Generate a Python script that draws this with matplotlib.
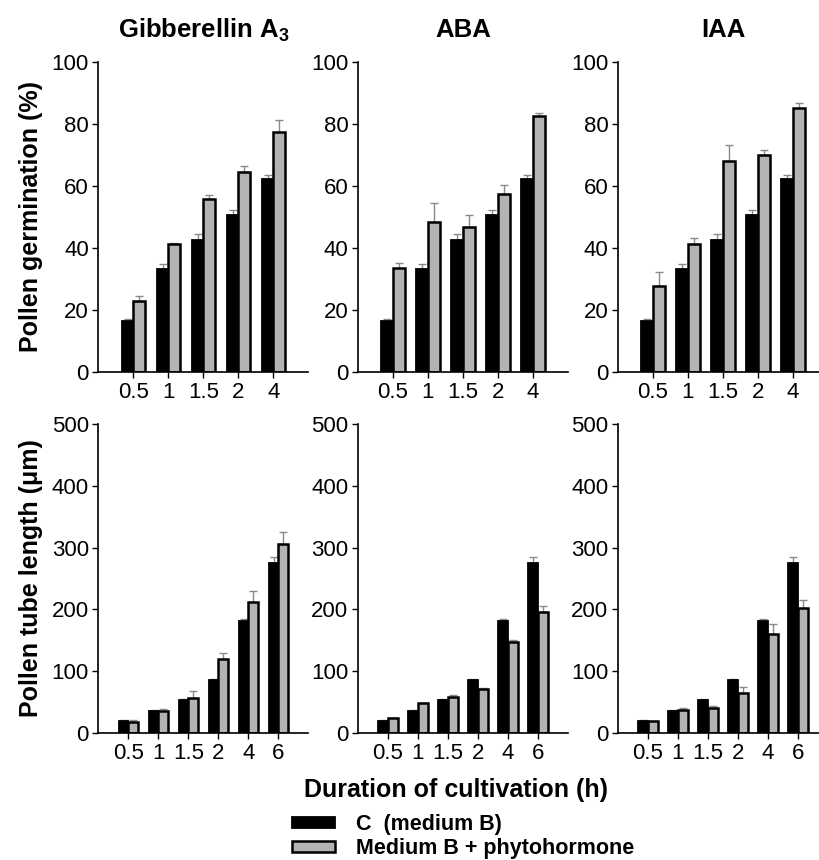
import numpy as np
import matplotlib
matplotlib.use('Agg')
import matplotlib.pyplot as plt

plt.rcParams['font.family'] = ['Liberation Sans', 'DejaVu Sans']
plt.rcParams['mathtext.fontset'] = 'custom'
plt.rcParams['mathtext.rm'] = 'Liberation Sans'
plt.rcParams['mathtext.bf'] = 'Liberation Sans:bold'

# germination (%) - top row
germ_times = ['0.5', '1', '1.5', '2', '4']
germ_ctrl = [16.4, 33.1, 42.6, 50.8, 62.2]
germ_ctrl_err = [0.8, 1.6, 1.9, 1.3, 1.4]
germ_ga3 = [22.8, 41.3, 55.9, 64.5, 77.3]
germ_ga3_err = [1.7, 0.3, 1.1, 1.9, 3.9]
germ_aba = [33.7, 48.3, 46.7, 57.4, 82.7]
germ_aba_err = [1.6, 6.2, 4.1, 3.0, 0.7]
germ_iaa = [27.6, 41.2, 68.2, 70.1, 85.2]
germ_iaa_err = [4.7, 2.1, 5.0, 1.4, 1.7]

# tube length (um) - bottom row
tube_times = ['0.5', '1', '1.5', '2', '4', '6']
tube_ctrl = [20, 36, 53, 86, 182, 275]
tube_ctrl_err = [1, 2, 2, 2, 3, 9]
tube_ga3 = [17, 35, 57, 120, 212, 306]
tube_ga3_err = [4, 4, 11, 10, 18, 19]
tube_aba = [24, 48, 59, 71, 148, 195]
tube_aba_err = [1, 1, 2, 2, 2, 11]
tube_iaa = [19, 38, 40, 65, 161, 202]
tube_iaa_err = [1, 2, 4, 9, 15, 13]

titles = ['Gibberellin A$_\\mathbf{3}$', 'ABA', 'IAA']
legend_labels = ['C  (medium B)', 'Medium B + phytohormone']

GREY = '#b3b3b3'
W = 0.33


def draw_pair(ax, labels, ctrl, ctrl_err, trt, trt_err):
    x = np.arange(len(labels))
    zeros = np.zeros(len(labels))
    b1 = ax.bar(x - W / 2, ctrl, W, color='black', edgecolor='black', linewidth=1.3, zorder=2)
    b2 = ax.bar(x + W / 2, trt, W, color=GREY, edgecolor='black', linewidth=1.8, zorder=2)
    ax.errorbar(x - W / 2, ctrl, yerr=[zeros, ctrl_err], fmt='none', ecolor='#8a8a8a',
                elinewidth=1, capsize=3, capthick=1, zorder=1)
    ax.errorbar(x + W / 2, trt, yerr=[zeros, trt_err], fmt='none', ecolor='#8a8a8a',
                elinewidth=1, capsize=3, capthick=1, zorder=1)
    ax.set_xticks(x)
    ax.set_xticklabels(labels)
    ax.set_xlim(-1, len(labels))
    for s in ['top', 'right']:
        ax.spines[s].set_visible(False)
    for s in ['left', 'bottom']:
        ax.spines[s].set_linewidth(1.2)
    ax.tick_params(direction='out', length=4, width=1, labelsize=16, pad=3)
    return b1, b2


fig = plt.figure(figsize=(8.2, 8.6), dpi=100)

lefts = [98.5 / 820, 358 / 820, 618 / 820]
width = 210 / 820

top_sets = [(germ_ga3, germ_ga3_err), (germ_aba, germ_aba_err), (germ_iaa, germ_iaa_err)]
bot_sets = [(tube_ga3, tube_ga3_err), (tube_aba, tube_aba_err), (tube_iaa, tube_iaa_err)]

handles = None
for i in range(3):
    ax = fig.add_axes([lefts[i], (860 - 372) / 860, width, 310 / 860])
    h = draw_pair(ax, germ_times, germ_ctrl, germ_ctrl_err, *top_sets[i])
    ax.set_ylim(0, 100)
    ax.set_yticks([0, 20, 40, 60, 80, 100])
    ax.set_title(titles[i], fontsize=18.5, fontweight='bold', pad=18)
    if i == 0:
        ax.set_ylabel('Pollen germination (%)', fontsize=18, fontweight='bold', labelpad=6)
        handles = h

    ax2 = fig.add_axes([lefts[i], (860 - 733) / 860, width, 309 / 860])
    draw_pair(ax2, tube_times, tube_ctrl, tube_ctrl_err, *bot_sets[i])
    ax2.set_ylim(0, 500)
    ax2.set_yticks([0, 100, 200, 300, 400, 500])
    if i == 0:
        ax2.set_ylabel('Pollen tube length (μm)', fontsize=18, fontweight='bold', labelpad=6)

fig.text(456 / 820, 1 - 790 / 860, 'Duration of cultivation (h)', ha='center', va='center',
         fontsize=18, fontweight='bold')

fig.legend(handles, legend_labels, loc='upper left',
           bbox_to_anchor=(292 / 820, 1 - 814 / 860), frameon=False,
           prop={'size': 15.5, 'weight': 'bold'}, handlelength=2.0, handleheight=0.4,
           labelspacing=0.15, handletextpad=0.95, borderaxespad=0, borderpad=0)

fig.savefig('out.png', dpi=100)
